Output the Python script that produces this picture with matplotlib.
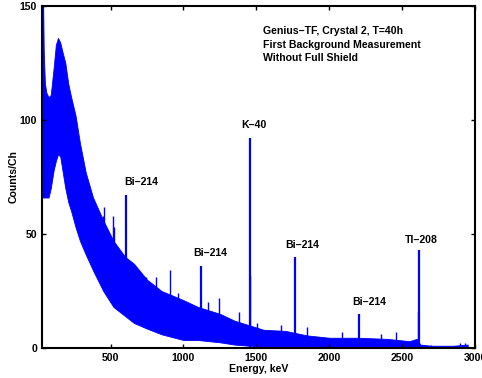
import matplotlib
matplotlib.use("Agg")
import matplotlib.pyplot as plt

# Continuum envelope (energy in keV, counts/ch)
env_energy = [32, 36, 42, 50, 60, 75, 90, 110, 125, 140, 155, 170, 190, 210, 230,
              260, 290, 330, 380, 450, 520, 600, 660, 750, 850, 1000, 1100, 1250,
              1350, 1450, 1550, 1700, 1850, 2000, 2200, 2400, 2550, 2600, 2625,
              2700, 2850, 2950]
env_upper = [160, 160, 130, 116, 112, 110, 111, 123, 133, 136, 134, 130, 125, 116, 110,
             102, 90, 77, 66, 56, 47, 40, 37, 30, 25, 21, 18, 15,
             12, 10, 8, 7.5, 5.5, 4.5, 4.5, 4, 3, 4, 1.5,
             1, 1, 1.5]
env_lower = [66, 66, 66, 66, 66, 66, 70, 78, 82, 85, 84, 78, 70, 64, 60,
             53, 47, 41, 34, 25, 18, 14, 11, 8.5, 6, 3.5, 3.5, 2.5,
             1.5, 1, 0.5, 0.5, 0.5, 0.5, 0.5, 0.5, 0.5, 0.5, 0,
             0, 0, 0]

# Individual noise spikes (top value and the band level below it)
spike_energy = [445, 452, 514, 521, 555, 740, 809, 911, 966, 1172, 1241,
                1378, 1456, 1508, 1666, 1851, 2091, 2352, 2455, 2608, 2700, 2900, 2930]
spike_counts = [58, 62, 58, 53, 41, 31, 31, 34, 24, 20, 22,
                16, 32, 11, 10, 9, 7, 6, 7, 16, 1.5, 2, 2]
spike_base = [40, 40, 35, 35, 30, 18, 15, 10, 8, 5, 4,
              3, 2, 1, 1, 1, 1, 1, 1, 1, 0, 0, 0]

# Lines with labels
peak_energy = [609, 1120, 1460, 1764, 2204, 2614]
peak_counts = [67, 36, 92, 40, 15, 43]
peak_base = [20, 5, 0.5, 0.5, 0.5, 0.5]

label_text = ["Bi\u2013214", "K\u201340", "Bi\u2013214", "Bi\u2013214", "Bi\u2013214", "Tl\u2013208"]
label_x = [713, 1481, 1186, 1817, 2276, 2633]
label_y = [72.8, 98, 41.7, 45, 20, 47.4]

title_lines = ["Genius\u2013TF, Crystal 2, T=40h", "First Background Measurement",
               "Without Full Shield"]
title_y = [139, 133, 127]

x_ticks = [500, 1000, 1500, 2000, 2500, 3000]
y_ticks = [0, 50, 100, 150]

plt.rcParams['font.family'] = ['Liberation Sans', 'DejaVu Sans']
plt.rcParams['font.weight'] = 'bold'

fig = plt.figure(figsize=(4.82, 3.78), dpi=100)
ax = fig.add_axes([42 / 482, 30 / 378, 433 / 482, 342 / 378])

ax.fill_between(env_energy, env_lower, env_upper, color='#0000ff', lw=0.6,
                edgecolor='#0000ff')
ax.vlines(spike_energy, spike_base, spike_counts, color='#0000ff', lw=1.0)
ax.vlines(peak_energy, peak_base, peak_counts, color='#0000ff', lw=1.6)

for t, x, y in zip(label_text, label_x, label_y):
    ax.text(x, y, t, ha='center', va='center', fontsize=7.6, fontweight='bold')
for t, y in zip(title_lines, title_y):
    ax.text(1543, y, t, ha='left', va='center', fontsize=7.6, fontweight='bold')

ax.set_xlim(30, 3000)
ax.set_ylim(0, 150)
ax.set_xticks(x_ticks)
ax.set_yticks(y_ticks)
ax.tick_params(direction='in', length=3, width=1, top=True, right=True,
               labelsize=7.6, pad=3.5)
for lab in ax.get_xticklabels() + ax.get_yticklabels():
    lab.set_fontweight('bold')
for s in ax.spines.values():
    s.set_linewidth(1.5)

ax.set_xlabel("Energy, keV", fontsize=7.6, fontweight='bold', labelpad=1)
ax.set_ylabel("Counts/Ch", fontsize=7.6, fontweight='bold', labelpad=0.5)

fig.savefig("out.png", dpi=100)
